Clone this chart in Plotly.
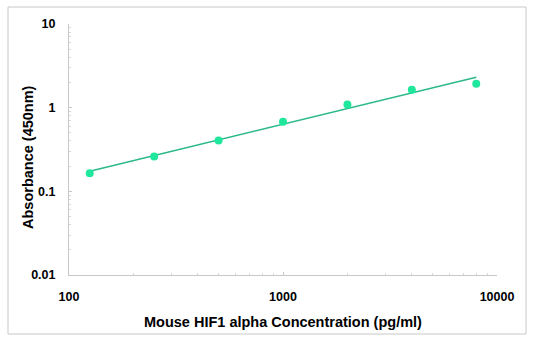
import numpy as np
import plotly.graph_objects as go

conc = [125, 250, 500, 1000, 2000, 4000, 8000]
absorb = [0.164, 0.261, 0.405, 0.68, 1.09, 1.64, 1.93]
x_ticks = [100, 1000, 10000]
y_ticks = [0.01, 0.1, 1, 10]
x_title = "Mouse HIF1 alpha Concentration (pg/ml)"
y_title = "Absorbance (450nm)"

# power-law trendline fitted to the data
b, a = np.polyfit(np.log10(conc), np.log10(absorb), 1)
fit_x = [conc[0], conc[-1]]
fit_y = [10 ** (a + b * np.log10(v)) for v in fit_x]

fig = go.Figure()
fig.add_trace(go.Scatter(x=fit_x, y=fit_y, mode="lines",
                         line=dict(color="#2bb88c", width=1.5), hoverinfo="skip"))
fig.add_trace(go.Scatter(x=conc, y=absorb, mode="markers",
                         marker=dict(color="#1fe89c", size=8, line=dict(width=0))))

L, R, T, B = 69, 51, 24, 79
W, H = 548, 354
pw, ph = W - L - R, H - T - B

FONT = "Liberation Sans, Arial"
tickfont = dict(family=FONT, size=12.5, color="black")
fig.update_layout(
    width=W, height=H,
    margin=dict(l=L, r=R, t=T, b=B),
    paper_bgcolor="white", plot_bgcolor="white",
    showlegend=False,
    xaxis=dict(type="log", range=[2, 4], tickvals=x_ticks,
               ticktext=["<b>%g</b>" % v for v in x_ticks],
               tickfont=tickfont, showgrid=False, zeroline=False,
               showline=True, linecolor="#c8c8c8", linewidth=1,
               ticks="inside", ticklen=3, tickcolor="#c8c8c8",
               ticklabelstandoff=10,
               minor=dict(ticks="inside", ticklen=2, tickcolor="#d8d8d8", dtick="D1", showgrid=False)),
    yaxis=dict(type="log", range=[-2, 1], tickvals=y_ticks,
               ticktext=["<b>%g</b>" % v for v in y_ticks],
               tickfont=tickfont, showgrid=False, zeroline=False,
               showline=True, linecolor="#c8c8c8", linewidth=1,
               ticks="inside", ticklen=3, tickcolor="#c8c8c8",
               ticklabelstandoff=10,
               minor=dict(ticks="inside", ticklen=2, tickcolor="#d8d8d8", dtick="D1", showgrid=False)),
)

fig.add_annotation(text="<b>%s</b>" % x_title, xref="paper", yref="paper",
                   x=(283 - L) / pw, y=(H - B - 322) / ph, showarrow=False,
                   xanchor="center", yanchor="middle",
                   font=dict(family=FONT, size=14.5, color="black"))
fig.add_annotation(text="<b>%s</b>" % y_title, xref="paper", yref="paper",
                   x=(28 - L) / pw, y=(H - B - 157) / ph, showarrow=False,
                   textangle=-90, xanchor="center", yanchor="middle",
                   font=dict(family=FONT, size=14.5, color="black"))

fig.add_shape(type="rect", xref="paper", yref="paper",
              x0=(8 - L) / pw, x1=(526 - L) / pw,
              y0=(H - B - 334) / ph, y1=(H - B - 7) / ph,
              line=dict(color="#c8c8c8", width=1), layer="below")

fig.write_html("out.html")
